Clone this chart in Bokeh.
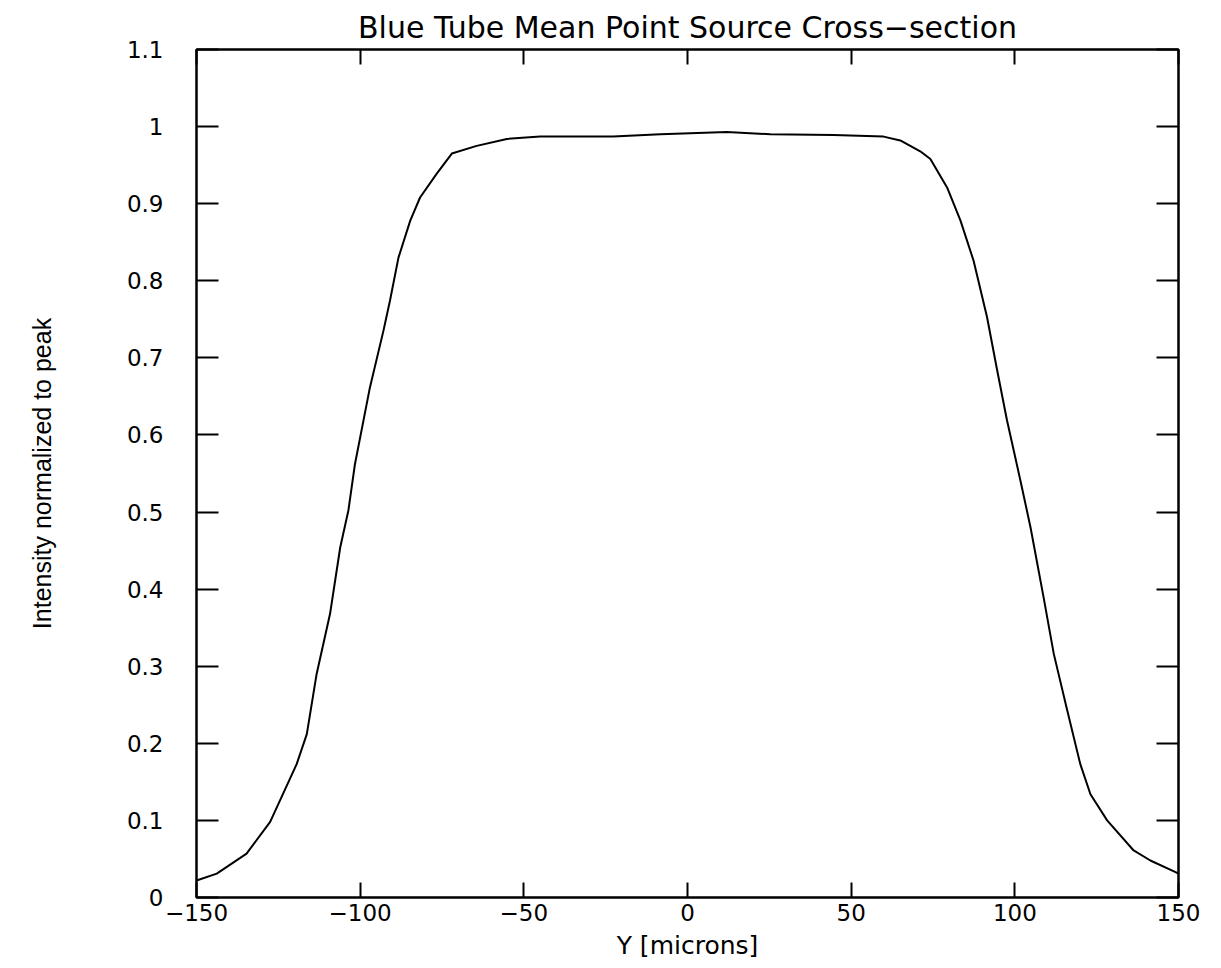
from bokeh.plotting import figure
from bokeh.models import LinearAxis, FixedTicker, CustomJSTickFormatter, Title, Range1d
from bokeh.embed import file_html
from bokeh.resources import INLINE

# ---- data ----
y_microns = [-150, -143.8, -134.7, -127.5, -119.4, -116.3, -113.3, -109.2, -106.1, -103.6,
             -101.6, -97.0, -92.9, -90.9, -88.3, -84.7, -81.7, -76.6, -72.0, -64.4,
             -55.2, -45.0, -22.7, -8.3, 12.0, 25.3, 44.6, 59.9, 65.0, 71.1,
             74.2, 79.3, 83.4, 87.4, 91.5, 94.6, 97.6, 101.7, 104.8, 108.8,
             111.9, 116.0, 120.0, 123.1, 128.2, 136.3, 141.4, 149.1, 150]
intensity = [0.022, 0.031, 0.057, 0.098, 0.173, 0.212, 0.290, 0.368, 0.454, 0.502,
             0.562, 0.662, 0.735, 0.774, 0.830, 0.878, 0.908, 0.939, 0.965, 0.975,
             0.984, 0.987, 0.987, 0.990, 0.993, 0.990, 0.989, 0.987, 0.982, 0.968,
             0.958, 0.921, 0.878, 0.826, 0.753, 0.684, 0.619, 0.541, 0.480, 0.389,
             0.316, 0.243, 0.173, 0.134, 0.100, 0.061, 0.048, 0.033, 0.031]

x_ticks = [-150, -100, -50, 0, 50, 100, 150]
x_tick_labels = ["\u2212150", "\u2212100", "\u221250", "0", "50", "100", "150"]
y_ticks = [0, 0.1, 0.2, 0.3, 0.4, 0.5, 0.6, 0.7, 0.8, 0.9, 1, 1.1]
y_tick_labels = ["0", "0.1", "0.2", "0.3", "0.4", "0.5", "0.6", "0.7", "0.8", "0.9", "1", "1.1"]

title_text = "Blue Tube Mean Point Source Cross\u2212section"
x_label = "Y [microns]"
y_label = "Intensity normalized to peak"

FONT = "DejaVu Sans"

p = figure(width=1221, height=968, output_backend="svg", toolbar_location=None,
           x_range=Range1d(-150, 150), y_range=Range1d(0, 1.1),
           min_border_left=196, min_border_right=43, min_border_top=49, min_border_bottom=71,
           x_axis_label=x_label, y_axis_label=y_label)
p.title = None

p.grid.visible = False
p.background_fill_color = "white"
p.border_fill_color = "white"
p.outline_line_color = "black"
p.outline_line_width = 2

p.line(y_microns, intensity, line_color="black", line_width=2)

def style_axis(ax, tick_len):
    ax.axis_line_color = "black"
    ax.axis_line_width = 2
    ax.major_tick_line_color = "black"
    ax.major_tick_line_width = 2
    ax.major_tick_in = tick_len
    ax.major_tick_out = 0
    ax.minor_tick_line_color = None
    ax.major_label_text_font = FONT
    ax.major_label_text_font_size = "23px"
    ax.major_label_text_color = "black"
    ax.axis_label_text_font = FONT
    ax.axis_label_text_font_style = "normal"
    ax.axis_label_text_color = "black"

xa = p.xaxis[0]
style_axis(xa, 15)
xa.ticker = FixedTicker(ticks=x_ticks)
xa.major_label_overrides = dict(zip(x_ticks, x_tick_labels))
xa.major_label_standoff = 6
xa.axis_label_text_font_size = "25px"
xa.axis_label_standoff = 7

ya = p.yaxis[0]
style_axis(ya, 22)
ya.ticker = FixedTicker(ticks=y_ticks)
ya.major_label_overrides = dict(zip(y_ticks, y_tick_labels))
ya.major_label_standoff = 33
ya.axis_label_text_font = "Liberation Sans"
ya.axis_label_text_font_size = "25px"
ya.axis_label_standoff = 68

empty = CustomJSTickFormatter(code="return ''")
top = LinearAxis(ticker=FixedTicker(ticks=x_ticks), formatter=empty)
style_axis(top, 15)
top.major_label_standoff = 0
top.major_label_text_font_size = "1px"
p.add_layout(top, "above")

right = LinearAxis(ticker=FixedTicker(ticks=y_ticks), formatter=empty)
style_axis(right, 22)
right.major_label_standoff = 0
right.major_label_text_font_size = "1px"
p.add_layout(right, "right")

p.add_layout(Title(text=title_text, align="center", text_font=FONT, text_font_size="30px",
                   text_font_style="normal", text_color="black", offset=0, standoff=9), "above")

open("out.html", "w").write(file_html(p, INLINE))
